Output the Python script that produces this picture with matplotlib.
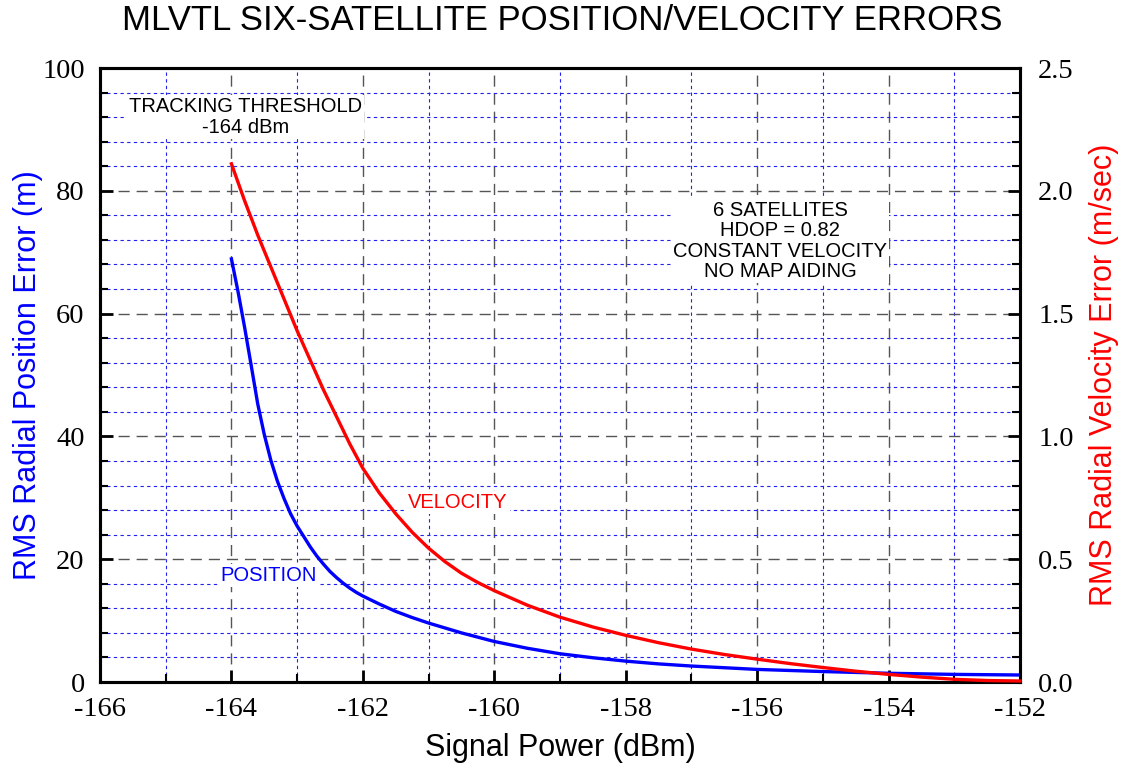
import matplotlib.pyplot as plt
from matplotlib.ticker import MultipleLocator

# RMS radial position error (m) vs signal power (dBm)
pos_power = [-164, -163.9, -163.8, -163.7, -163.6, -163.5, -163.4, -163.3, -163.2,
             -163.1, -163, -162.9, -162.8, -162.7, -162.6, -162.5, -162.4, -162.3,
             -162.2, -162.1, -162, -161.75, -161.5, -161.25, -161, -160.5, -160,
             -159.5, -159, -158.5, -158, -157.5, -157, -156, -155, -154, -153, -152]
pos_err = [68.9, 63.6, 57.8, 51.6, 45.3, 40.3, 36.1, 32.7, 29.9,
           27.4, 25.4, 23.7, 22.0, 20.5, 19.2, 18.0, 17.0, 16.1,
           15.3, 14.6, 14.0, 12.7, 11.5, 10.5, 9.6, 8.0, 6.6,
           5.5, 4.6, 3.95, 3.4, 2.95, 2.6, 2.05, 1.7, 1.42, 1.24, 1.14]

# RMS radial velocity error (m/sec) vs signal power (dBm)
vel_power = [-164, -163.8, -163.6, -163.4, -163.2, -163, -162.8, -162.6, -162.4,
             -162.2, -162, -161.75, -161.5, -161.25, -161, -160.75, -160.5, -160.25,
             -160, -159.5, -159, -158.5, -158, -157.5, -157, -156.5, -156, -155.5,
             -155, -154.5, -154, -153.5, -153, -152.5, -152]
vel_err = [2.11, 1.96, 1.82, 1.69, 1.56, 1.43, 1.31, 1.19, 1.08,
           0.97, 0.87, 0.77, 0.685, 0.61, 0.545, 0.49, 0.443, 0.405,
           0.372, 0.313, 0.264, 0.224, 0.19, 0.16, 0.134, 0.112, 0.093, 0.075,
           0.059, 0.044, 0.031, 0.02, 0.011, 0.006, 0.004]

sans = 'Liberation Sans'
serif = 'Liberation Serif'
blue = '#0000ff'
red = '#ff0000'

fig = plt.figure(figsize=(11.25, 7.75), dpi=100)
ax = fig.add_axes([100/1125, 1 - 682/775, 920/1125, 614/775])
ax2 = ax.twinx()

ax.set_xlim(-166, -152)
ax.set_ylim(0, 100)
ax2.set_ylim(0, 2.5)

ax.xaxis.set_major_locator(MultipleLocator(2))
ax.xaxis.set_minor_locator(MultipleLocator(1))
ax.yaxis.set_major_locator(MultipleLocator(20))
ax.yaxis.set_minor_locator(MultipleLocator(4))
ax2.yaxis.set_major_locator(MultipleLocator(0.5))
ax2.yaxis.set_minor_locator(MultipleLocator(0.1))

ax.grid(which='major', color='#555555', linestyle=(0, (8, 5)), linewidth=1.0)
ax.grid(which='minor', color='#2222ee', linestyle=(0, (3, 3)), linewidth=0.8)
ax.set_axisbelow(True)

for a in (ax, ax2):
    for s in a.spines.values():
        s.set_linewidth(2.2)
    a.tick_params(which='major', direction='in', length=9, width=2)
    a.tick_params(which='minor', direction='in', length=6, width=1.5)
ax.tick_params(axis='x', pad=11)
ax.tick_params(axis='y', pad=11)
ax2.tick_params(axis='y', pad=13)

ticks_x = list(range(-166, -151, 2))
ax.set_xticks(ticks_x)
ax.set_xticklabels([str(v) for v in ticks_x], fontfamily=serif, fontsize=20.5)
ax.set_yticks([0, 20, 40, 60, 80, 100])
ax.set_yticklabels(['0', '20', '40', '60', '80', '100'], fontfamily=serif, fontsize=20.5)
ax2.set_yticks([0, 0.5, 1.0, 1.5, 2.0, 2.5])
ax2.set_yticklabels(['0.0', '0.5', '1.0', '1.5', '2.0', '2.5'], fontfamily=serif, fontsize=20.5)

ax.plot(pos_power, pos_err, color=blue, linewidth=2.4, zorder=3)
ax2.plot(vel_power, vel_err, color=red, linewidth=2.4, zorder=3, clip_on=False)

ax.set_xlabel('Signal Power (dBm)', fontfamily=sans, fontsize=22)
ax.xaxis.set_label_coords(0.5, -0.083)
ax.set_ylabel('RMS Radial Position Error (m)', fontfamily=sans, fontsize=22, color=blue)
ax.yaxis.set_label_coords(-0.062, 0.5)
ax2.set_ylabel('RMS Radial Velocity Error (m/sec)', fontfamily=sans, fontsize=22, color=red)
ax2.yaxis.set_label_coords(1.075, 0.5)
fig.suptitle('MLVTL SIX-SATELLITE POSITION/VELOCITY ERRORS', fontfamily=sans,
             fontsize=25, y=0.995)

box = dict(facecolor='white', edgecolor='none', pad=1.5)
ax.text(-163.79, 92.0, 'TRACKING THRESHOLD\n-164 dBm', ha='center', va='center',
        fontfamily=sans, fontsize=14.5, linespacing=1.15, bbox=box, zorder=4)
ax.text(-155.65, 71.8, '6 SATELLITES\nHDOP = 0.82\nCONSTANT VELOCITY\nNO MAP AIDING',
        ha='center', va='center', fontfamily=sans, fontsize=14.5, linespacing=1.1,
        bbox=box, zorder=4)
ax.text(-160.55, 29.2, 'VELOCITY', ha='center', va='center', fontfamily=sans,
        fontsize=14.5, color=red, bbox=box, zorder=4)
ax.text(-163.44, 17.3, 'POSITION', ha='center', va='center', fontfamily=sans,
        fontsize=14.5, color=blue, bbox=box, zorder=4)

fig.savefig('out.png', dpi=100)
